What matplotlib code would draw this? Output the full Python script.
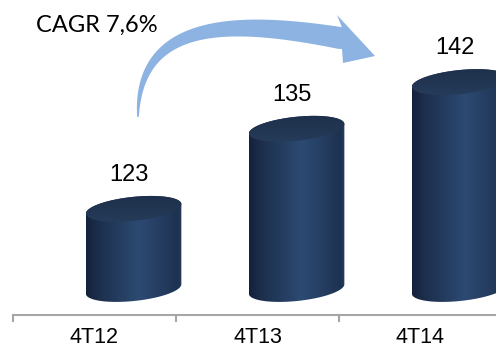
import numpy as np
import matplotlib.pyplot as plt
from matplotlib.colors import LinearSegmentedColormap
from matplotlib.patches import Polygon

periods = ["4T12", "4T13", "4T14"]
values = [123, 135, 142]
cagr_label = "CAGR 7,6%"

BASE = 111      # value the cylinders stand on
DEPTH = 0.24    # 3D depth shift of the cylinders (category units)
RADIUS = 48     # cylinder half width, px
CAP = 12        # half height of the elliptic caps, px
TILT = 6        # cap tilt, degrees

side_cmap = LinearSegmentedColormap.from_list(
    "side",
    [(0.0, "#14213a"), (0.12, "#1c2e4c"), (0.55, "#2c4a72"),
     (0.85, "#22395b"), (0.96, "#1d3150"), (1.0, "#283e5e")],
)
cap_cmap = LinearSegmentedColormap.from_list("cap", ["#273f5e", "#1c2c46"])

fig = plt.figure(figsize=(4.96, 3.47), dpi=100)
ax = fig.add_axes([13 / 496, 32 / 347, 489 / 496, 315 / 347])
ax.set_xlim(-0.5, 2.5)
ax.set_ylim(107.1, 154.3)

# pixels per data unit, used to keep the caps elliptic on screen
p0 = ax.transData.transform((0, BASE))
p1 = ax.transData.transform((1, BASE + 1))
sx, sy = p1[0] - p0[0], p1[1] - p0[1]


def cap_points(cx, cy, t):
    a = np.radians(TILT)
    ex, ey = RADIUS * np.cos(t), CAP * np.sin(t)
    dx = ex * np.cos(a) - ey * np.sin(a)
    dy = ex * np.sin(a) + ey * np.cos(a)
    return np.column_stack([cx + dx / sx, cy + dy / sy])


for i, v in enumerate(values):
    cx = i + DEPTH
    half = RADIUS / sx
    bottom = cap_points(cx, BASE, np.linspace(np.pi, 2 * np.pi, 60))
    top = cap_points(cx, v, np.linspace(0, np.pi, 60))
    body = Polygon(np.vstack([bottom, top]), closed=True,
                   transform=ax.transData, facecolor="none", lw=0)
    ax.add_patch(body)
    im = ax.imshow(np.linspace(0, 1, 256).reshape(1, -1), cmap=side_cmap,
                   extent=[cx - half, cx + half, BASE - 4, v + 4],
                   aspect="auto", zorder=2)
    im.set_clip_path(body)

    lid = Polygon(cap_points(cx, v, np.linspace(0, 2 * np.pi, 120)),
                  closed=True, transform=ax.transData, facecolor="none", lw=0)
    ax.add_patch(lid)
    im = ax.imshow(np.linspace(0, 1, 64).reshape(-1, 1), cmap=cap_cmap,
                   origin="lower",
                   extent=[cx - half, cx + half, v - 3, v + 3],
                   aspect="auto", zorder=3)
    im.set_clip_path(lid)

    ax.annotate(str(v), (cx, v), xytext=(-3.6, 20), textcoords="offset points",
                ha="center", va="baseline", fontsize=17,
                family="Liberation Sans", color="#000000")

ax.set_xlim(-0.5, 2.5)
ax.set_ylim(107.1, 154.3)

for side in ["top", "right", "left"]:
    ax.spines[side].set_visible(False)
ax.spines["bottom"].set_color("#a6a6a6")
ax.spines["bottom"].set_linewidth(1.5)
ax.set_yticks([])

ax.set_xticks([-0.5, 0.5, 1.5, 2.5])
ax.set_xticklabels([])
ax.tick_params(axis="x", which="major", length=5, width=1.5,
               color="#a6a6a6", direction="out")
ax.set_xticks(range(len(periods)), minor=True)
ax.set_xticklabels(periods, minor=True, fontsize=15.5,
                   family="Liberation Sans", color="#000000")
ax.tick_params(axis="x", which="minor", length=0, pad=8.5)

# curved growth arrow and its caption, in pixel coordinates
ov = fig.add_axes([0, 0, 1, 1])
ov.set_xlim(0, 496)
ov.set_ylim(347, 0)
ov.axis("off")
ov.patch.set_alpha(0)

P = np.array([[138, 117], [138, 20], [230, 18.6], [340, 38]])
t = np.linspace(0, 1, 120)[:, None]
curve = ((1 - t) ** 3 * P[0] + 3 * (1 - t) ** 2 * t * P[1]
         + 3 * (1 - t) * t ** 2 * P[2] + t ** 3 * P[3])
deriv = (3 * (1 - t) ** 2 * (P[1] - P[0]) + 6 * (1 - t) * t * (P[2] - P[1])
         + 3 * t ** 2 * (P[3] - P[2]))
deriv /= np.linalg.norm(deriv, axis=1, keepdims=True)
normal = np.column_stack([deriv[:, 1], -deriv[:, 0]])
width = 1.5 + 20.5 * t ** 0.8
outer = curve + normal * width / 2
inner = curve - normal * width / 2
head = np.array([[337, 15], [375, 56], [343, 63], [342, 49]])
arrow = np.vstack([outer, head, inner[::-1]])
ov.add_patch(Polygon(arrow, closed=True, facecolor="#8db3e2", lw=0))

ov.text(36, 32, cagr_label, fontsize=17, family="Lato",
        ha="left", va="baseline", color="#000000")

fig.savefig("out.png", dpi=100)
